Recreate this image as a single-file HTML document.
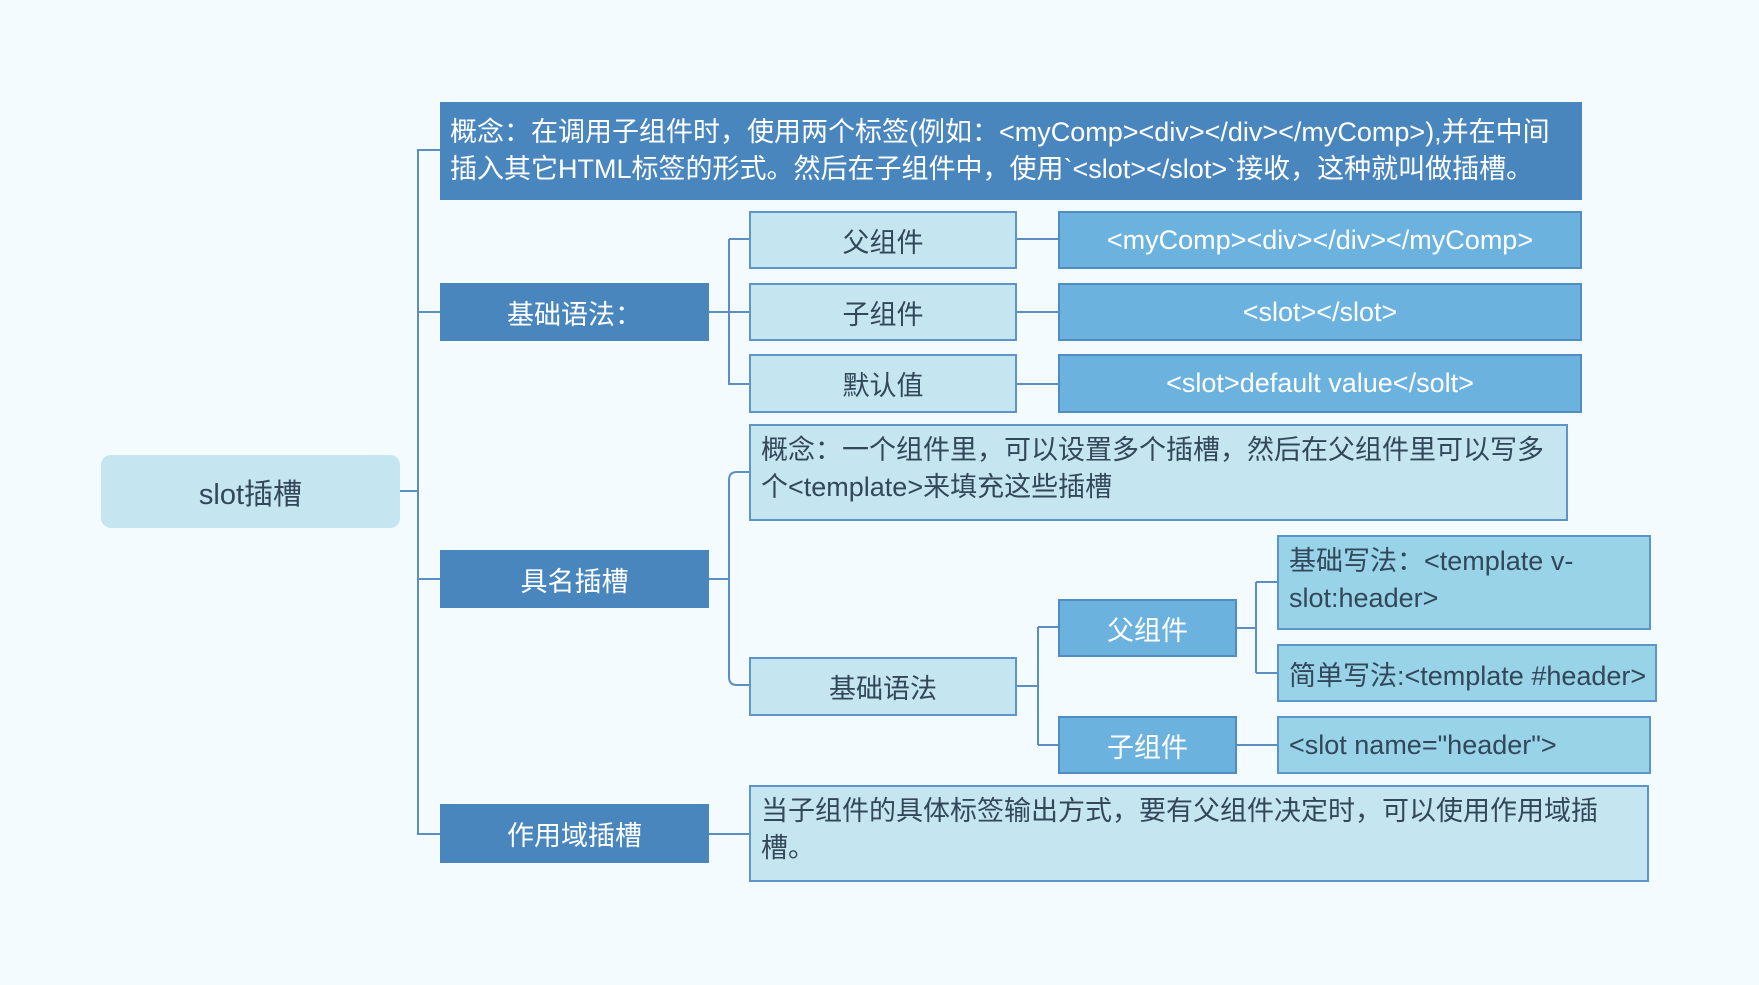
<!DOCTYPE html>
<html><head><meta charset="utf-8"><style>
body{margin:0;width:1759px;height:985px;background:#f3fbfe;position:relative;overflow:hidden;font-family:"Liberation Sans","Noto Sans CJK SC",sans-serif;}
.b{position:absolute;box-sizing:border-box;display:flex;align-items:center;justify-content:center;font-size:27px;color:#33475b;white-space:nowrap;}
.d{background:#4a86be;color:#fff;}
.l{background:#c5e5f0;border:2px solid #5b95c9;}
.m{background:#6cb2df;border:2px solid #4f8cc4;color:#fff;}
.c{background:#98d3e8;border:2px solid #5b95c9;justify-content:flex-start;padding:0 10px;}
.t{justify-content:flex-start;align-items:flex-start;padding:6px 10px;line-height:37px;text-align:left;}
svg{position:absolute;left:0;top:0}
</style></head><body>
<svg width="1759" height="985" fill="none" stroke="#5b8fc4" stroke-width="2">
<path d="M400 491H418M440 150H418V834H440M418 312H440M418 579H440"/>
<path d="M709 312H749M729 239H749M729 239V384H749"/>
<path d="M1017 239H1058M1017 312H1058M1017 384H1058"/>
<path d="M709 579H729M749 472H737Q729 472 729 480V677Q729 685 737 685H749"/>
<path d="M1017 686H1038M1038 627V745M1038 627H1058M1038 745H1058"/>
<path d="M1237 628H1256M1256 582V673M1256 582H1277M1256 673H1277M1237 745H1277"/>
<path d="M709 834H749"/>
</svg>
<div class="b" style="left:101px;top:455px;width:299px;height:73px;background:#c5e5f0;border-radius:10px;font-size:29px">slot插槽</div>
<div class="b d t" style="left:440px;top:102px;width:1142px;height:98px;padding-top:12px;line-height:37px">概念：在调用子组件时，使用两个标签(例如：&lt;myComp&gt;&lt;div&gt;&lt;/div&gt;&lt;/myComp&gt;),并在中间<br>插入其它HTML标签的形式。然后在子组件中，使用`&lt;slot&gt;&lt;/slot&gt;`接收，这种就叫做插槽。</div>
<div class="b d" style="left:440px;top:283px;width:269px;height:58px">基础语法：</div>
<div class="b l" style="left:749px;top:211px;width:268px;height:58px">父组件</div>
<div class="b l" style="left:749px;top:283px;width:268px;height:58px">子组件</div>
<div class="b l" style="left:749px;top:354px;width:268px;height:59px">默认值</div>
<div class="b m" style="left:1058px;top:211px;width:524px;height:58px">&lt;myComp&gt;&lt;div&gt;&lt;/div&gt;&lt;/myComp&gt;</div>
<div class="b m" style="left:1058px;top:283px;width:524px;height:58px">&lt;slot&gt;&lt;/slot&gt;</div>
<div class="b m" style="left:1058px;top:354px;width:524px;height:59px">&lt;slot&gt;default value&lt;/solt&gt;</div>
<div class="b d" style="left:440px;top:550px;width:269px;height:58px">具名插槽</div>
<div class="b l t" style="left:749px;top:424px;width:819px;height:97px">概念：一个组件里，可以设置多个插槽，然后在父组件里可以写多<br>个&lt;template&gt;来填充这些插槽</div>
<div class="b l" style="left:749px;top:657px;width:268px;height:59px">基础语法</div>
<div class="b m" style="left:1058px;top:599px;width:179px;height:58px">父组件</div>
<div class="b m" style="left:1058px;top:716px;width:179px;height:58px">子组件</div>
<div class="b c t" style="left:1277px;top:535px;width:374px;height:95px">基础写法：&lt;template v-<br>slot:header&gt;</div>
<div class="b c" style="left:1277px;top:644px;width:380px;height:58px">简单写法:&lt;template #header&gt;</div>
<div class="b c" style="left:1277px;top:716px;width:374px;height:58px">&lt;slot name="header"&gt;</div>
<div class="b d" style="left:440px;top:804px;width:269px;height:59px">作用域插槽</div>
<div class="b l t" style="left:749px;top:785px;width:900px;height:97px">当子组件的具体标签输出方式，要有父组件决定时，可以使用作用域插<br>槽。</div>
</body></html>
